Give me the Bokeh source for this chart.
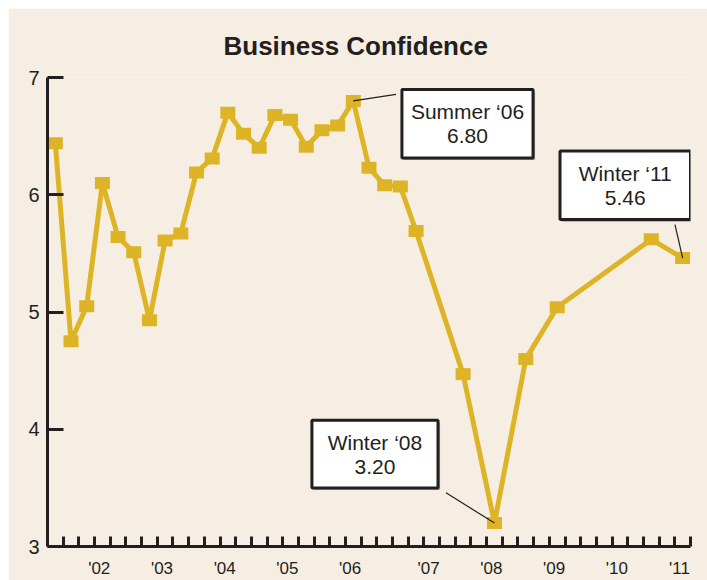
from bokeh.plotting import figure
from bokeh.models import Range1d, FixedTicker, Label
from bokeh.embed import file_html
from bokeh.resources import INLINE

# ---- data -------------------------------------------------------------
# quarter slot of each survey reading along the axis (0 = first slot)
quarter_index = list(range(24)) + [26, 28, 30, 32, 38, 40]
confidence = [6.44, 4.75, 5.05, 6.10, 5.64, 5.51, 4.93, 5.61, 5.67, 6.19,
              6.31, 6.70, 6.52, 6.40, 6.68, 6.64, 6.41, 6.55, 6.59, 6.80,
              6.23, 6.08, 6.07, 5.69, 4.47, 3.20, 4.60, 5.04, 5.62, 5.46]
year_labels = ["'02", "'03", "'04", "'05", "'06", "'07", "'08", "'09", "'10", "'11"]
year_label_pos = [3.3, 7.3, 11.3, 15.3, 19.3, 24.3, 28.3, 32.3, 36.3, 40.3]
y_ticks = [3, 4, 5, 6, 7]
n_slots = 41

callout_names = ["Summer \u201806", "Winter \u201808", "Winter \u201811"]
callout_point = [19, 25, 29]           # index into the series
# box (left, right, bottom, top) and leader start, in data coords
callout_box = [(22.60, 30.96, 6.314, 6.898),
               (16.86, 24.90, 3.500, 4.076),
               (32.68, 41.00, 5.788, 6.373)]
callout_leader = [(22.22, 6.856), (25.41, 3.458), (40.01, 5.746)]

# ---- style ------------------------------------------------------------
BG = "#F6EEE2"
GOLD = "#DEB427"
INK = "#231F20"
FONT = "Liberation Sans"

x = [q + 0.5 for q in quarter_index]

p = figure(width=699, height=572, output_backend="svg", toolbar_location=None,
           x_range=Range1d(0, n_slots), y_range=Range1d(3, 7),
           min_border_left=39, min_border_right=17, min_border_top=69,
           min_border_bottom=31)
p.margin = (8, 0, 0, 8)
p.background_fill_color = BG
p.border_fill_color = BG
p.outline_line_color = None
p.grid.grid_line_color = None

p.title.text = "Business Confidence"
p.title.align = "left"
p.title.text_font = FONT
p.title.text_font_size = "26px"
p.title.text_font_style = "bold"
p.title.text_color = INK
p.title.standoff = 33
p.title.offset = 176

# x axis: minor ticks mark quarters, major (invisible) ticks carry year labels
xa = p.xaxis[0]
xa.ticker = FixedTicker(ticks=year_label_pos, minor_ticks=list(range(1, n_slots + 1)))
xa.major_label_overrides = {pos: lab for pos, lab in zip(year_label_pos, year_labels)}
xa.axis_line_width = 3
xa.axis_line_color = INK
xa.major_tick_line_color = None
xa.major_tick_in = 0
xa.major_tick_out = 0
xa.minor_tick_in = 10
xa.minor_tick_out = 0
xa.minor_tick_line_width = 3
xa.minor_tick_line_color = INK
xa.major_label_standoff = 12
xa.major_label_text_font = FONT
xa.major_label_text_font_size = "17px"
xa.major_label_text_color = INK

ya = p.yaxis[0]
ya.ticker = FixedTicker(ticks=y_ticks)
ya.axis_line_width = 3
ya.axis_line_color = INK
ya.major_tick_in = 16
ya.major_tick_out = 0
ya.major_tick_line_width = 3
ya.major_tick_line_color = INK
ya.minor_tick_line_color = None
ya.major_label_standoff = 8
ya.major_label_text_font = FONT
ya.major_label_text_font_size = "20px"
ya.major_label_text_color = INK

p.line(x, confidence, line_width=5, line_color=GOLD, line_join="round")
p.rect(x, confidence, width=15, height=12, width_units="screen",
       height_units="screen", fill_color=GOLD, line_color=None)

# callouts
for name, idx, box, lead in zip(callout_names, callout_point, callout_box, callout_leader):
    l, r, b, t = box
    p.quad(left=l + 0.13, right=r + 0.13, bottom=b - 0.018, top=t - 0.018,
           fill_color="#A8A6A4", line_color=None)
    p.quad(left=l, right=r, bottom=b, top=t, fill_color="white",
           line_color=INK, line_width=3)
    p.segment(x0=lead[0], y0=lead[1], x1=x[idx], y1=confidence[idx],
              line_color=INK, line_width=1.2)
    p.add_layout(Label(x=(l + r) / 2, y=(b + t) / 2,
                       text=f"{name}\n{confidence[idx]:.2f}",
                       text_align="center", text_baseline="middle",
                       text_font=FONT, text_font_size="21px",
                       text_color=INK, text_line_height=1.05))

open("out.html", "w").write(file_html(p, INLINE))
